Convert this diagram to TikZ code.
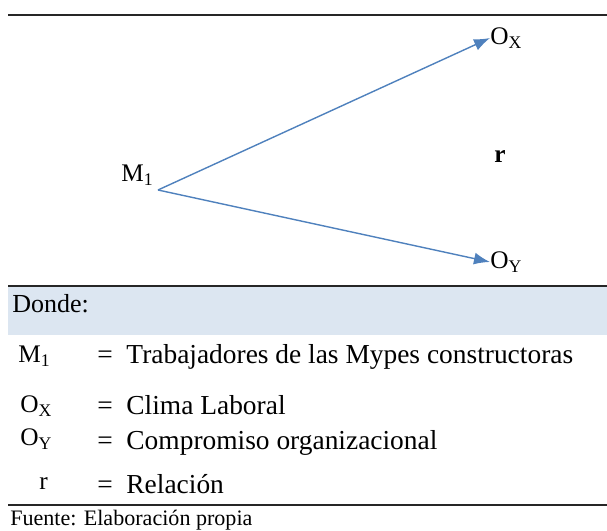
\documentclass[tikz,border=0pt]{standalone}
\usepackage{fontspec}
\setmainfont{Liberation Serif}
\usepackage{tikz}
\usetikzlibrary{arrows.meta,positioning}
\usepackage{xcolor}
\definecolor{dgblue}{RGB}{79,129,189}
\definecolor{dgshade}{RGB}{220,230,241}
\tikzstyle{arrow} = [line width=1pt,-{Latex[length=4mm,width=3mm]},color=dgblue]
\tikzstyle{rule} = [line width=1.2pt,color=black!85]
\tikzstyle{txt} = [inner sep=0pt,anchor=west,font=\fontsize{19.5}{22}\selectfont]
\tikzstyle{lbl} = [inner sep=0pt,anchor=west,font=\fontsize{18}{20}\selectfont]

\begin{document}
\begin{tikzpicture}[x=0.025cm, y=-0.025cm]
\useasboundingbox (0,0) rectangle (607,531);

% Rules and shaded band
\fill[dgshade] (8,287) rectangle (607,335);
\draw[rule] (8,15) -- (607,15);
\draw[rule] (8,286) -- (607,286);
\draw[rule] (8,505) -- (607,505);

% Diagram
\node[lbl] (m1) at (121,175) {M\textsubscript{1}};
\coordinate (origen) at (158,190);
\node[lbl] (ox) at (490,38) {O\textsubscript{X}};
\node[lbl] (oy) at (490,262) {O\textsubscript{Y}};
\node[lbl] (r) at (494,157) {\textbf{r}};
\draw[arrow] (origen) -- (ox.west);
\draw[arrow] (origen) -- (oy.west);

% Legend
\node[txt,font=\fontsize{18.5}{21}\selectfont] (donde) at (12,304) {Donde:};
\node[lbl] (lm1) at (18,356) {M\textsubscript{1}};
\node[txt] (em1) at (97,357) {=\ \ Trabajadores de las Mypes constructoras};
\node[lbl] (lox) at (20,406) {O\textsubscript{X}};
\node[txt] (eox) at (97,405) {=\ \ Clima Laboral};
\node[lbl] (loy) at (20,439) {O\textsubscript{Y}};
\node[txt] (eoy) at (97,443) {=\ \ Compromiso organizacional};
\node[lbl] (lr) at (39,484) {r};
\node[txt] (er) at (97,484) {=\ \ Relación};
\node[txt,font=\fontsize{15.7}{18}\selectfont] (fuente) at (10,520) {Fuente: Elaboración propia};
\end{tikzpicture}
\end{document}
